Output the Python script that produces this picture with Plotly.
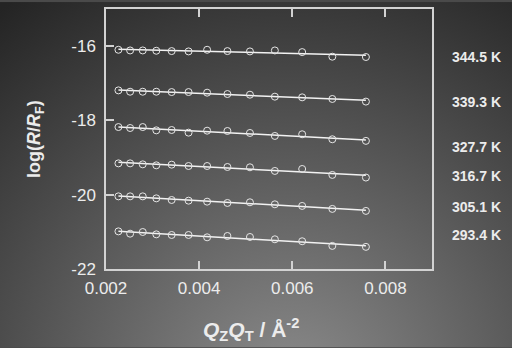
import base64
import numpy as np
import plotly.graph_objects as go

# Q_Z * Q_T values (Å^-2), shared by all temperature scans
qzqt = [0.002267, 0.002518, 0.002789, 0.003080, 0.003410, 0.003773, 0.004171,
        0.004607, 0.005091, 0.005626, 0.006212, 0.006860, 0.007581]

temperatures = ["344.5 K", "339.3 K", "327.7 K", "316.7 K", "305.1 K", "293.4 K"]

log_r_344 = [-16.098, -16.116, -16.116, -16.124, -16.133, -16.142, -16.098,
             -16.133, -16.142, -16.116, -16.160, -16.284, -16.293]
log_r_339 = [-17.191, -17.227, -17.227, -17.227, -17.236, -17.236, -17.253,
             -17.289, -17.307, -17.360, -17.378, -17.422, -17.493]
log_r_327 = [-18.178, -18.204, -18.178, -18.267, -18.258, -18.329, -18.276,
             -18.284, -18.338, -18.418, -18.373, -18.507, -18.551]
log_r_316 = [-19.156, -19.156, -19.182, -19.209, -19.191, -19.227, -19.227,
             -19.253, -19.262, -19.360, -19.307, -19.467, -19.538]
log_r_305 = [-20.044, -20.044, -20.044, -20.098, -20.142, -20.160, -20.187,
             -20.222, -20.204, -20.258, -20.302, -20.382, -20.436]
log_r_293 = [-20.987, -21.049, -21.004, -21.067, -21.084, -21.084, -21.147,
             -21.111, -21.138, -21.200, -21.253, -21.378, -21.404]

series = [log_r_344, log_r_339, log_r_327, log_r_316, log_r_305, log_r_293]

x_ticks = [0.002, 0.004, 0.006, 0.008]
y_ticks = [-22, -20, -18, -16]

# figure geometry (pixels)
W, H = 512, 348
ML, MR, MT, MB = 106, 80, 7, 79
PW, PH = W - ML - MR, H - MT - MB

fg = "#ececec"
axis_col = "#d2d2d2"

fig = go.Figure()

x = np.array(qzqt)
for vals in series:
    y = np.array(vals)
    slope, icpt = np.polyfit(x, y, 1)
    xf = np.array([x[0], x[-1]])
    fig.add_trace(go.Scatter(
        x=xf, y=slope * xf + icpt, mode="lines",
        line=dict(color="#f2f2f2", width=1.5),
        hoverinfo="skip", showlegend=False))
    fig.add_trace(go.Scatter(
        x=x, y=y, mode="markers",
        marker=dict(symbol="circle-open", size=7, color="#e6e6e6",
                    line=dict(width=1, color="#e6e6e6")),
        showlegend=False))

# radial grey backdrop for the whole page
svg = (
    f"<svg xmlns='http://www.w3.org/2000/svg' width='{W}' height='{H}' "
    f"viewBox='0 0 {W} {H}' preserveAspectRatio='none'><defs>"
    "<radialGradient id='g' gradientUnits='userSpaceOnUse' cx='290' cy='390' r='480'>"
    "<stop offset='0' stop-color='#8c8c8c'/><stop offset='1' stop-color='#242424'/>"
    "</radialGradient></defs>"
    f"<rect width='{W}' height='{H}' fill='url(#g)'/></svg>"
)
src = "data:image/svg+xml;base64," + base64.b64encode(svg.encode()).decode()
fig.add_layout_image(dict(
    source=src, xref="paper", yref="paper",
    x=-ML / PW, y=1 + MT / PH, sizex=W / PW, sizey=H / PH,
    xanchor="left", yanchor="top", sizing="stretch", layer="below"))

# temperature labels on the right
label_py = [55, 100.7, 145.7, 175, 207, 235]
for txt, py in zip(temperatures, label_py):
    fig.add_annotation(
        text=f"<b>{txt}</b>", xref="paper", yref="paper",
        x=(476.5 - ML) / PW, y=1 - (py - MT) / PH,
        xanchor="center", yanchor="middle", showarrow=False,
        font=dict(family="Liberation Sans, Arial", size=14, color=fg))

# axis titles
fig.add_annotation(
    text="<b>log(<i>R</i>/<i>R</i><sub>F</sub>)</b>",
    xref="paper", yref="paper", x=(35 - ML) / PW, y=1 - (138 - MT) / PH,
    xanchor="center", yanchor="middle", textangle=-90, showarrow=False,
    font=dict(family="Liberation Sans, Arial", size=18, color=fg))
fig.add_annotation(
    text="<b><i>Q</i><sub>Z</sub><i>Q</i><sub>T</sub> / Å<sup>-2</sup></b>",
    xref="paper", yref="paper", x=(251 - ML) / PW, y=1 - (330 - MT) / PH,
    xanchor="center", yanchor="middle", showarrow=False,
    font=dict(family="Liberation Sans, Arial", size=21, color=fg))

tick_font = dict(family="Liberation Sans, Arial", size=17, color=fg)
fig.update_xaxes(
    range=[0.002, 0.009], tickvals=x_ticks, ticktext=[f"{v:.3f}" for v in x_ticks],
    ticks="inside", ticklen=8, tickwidth=1.5, tickcolor=axis_col,
    showline=True, linecolor=axis_col, linewidth=1.5, mirror="ticks",
    showgrid=False, zeroline=False, tickfont=tick_font, ticklabelstandoff=3)
fig.update_yaxes(
    range=[-22, -15], tickvals=y_ticks, ticktext=[str(v) for v in y_ticks],
    ticks="inside", ticklen=8, tickwidth=1.5, tickcolor=axis_col,
    showline=True, linecolor=axis_col, linewidth=1.5, mirror=True,
    showgrid=False, zeroline=False, tickfont=tick_font, ticklabelstandoff=5)

fig.update_layout(
    width=W, height=H, margin=dict(l=ML, r=MR, t=MT, b=MB),
    paper_bgcolor="#4a4a4a", plot_bgcolor="rgba(0,0,0,0)",
    showlegend=False)

fig.write_html("out.html")
